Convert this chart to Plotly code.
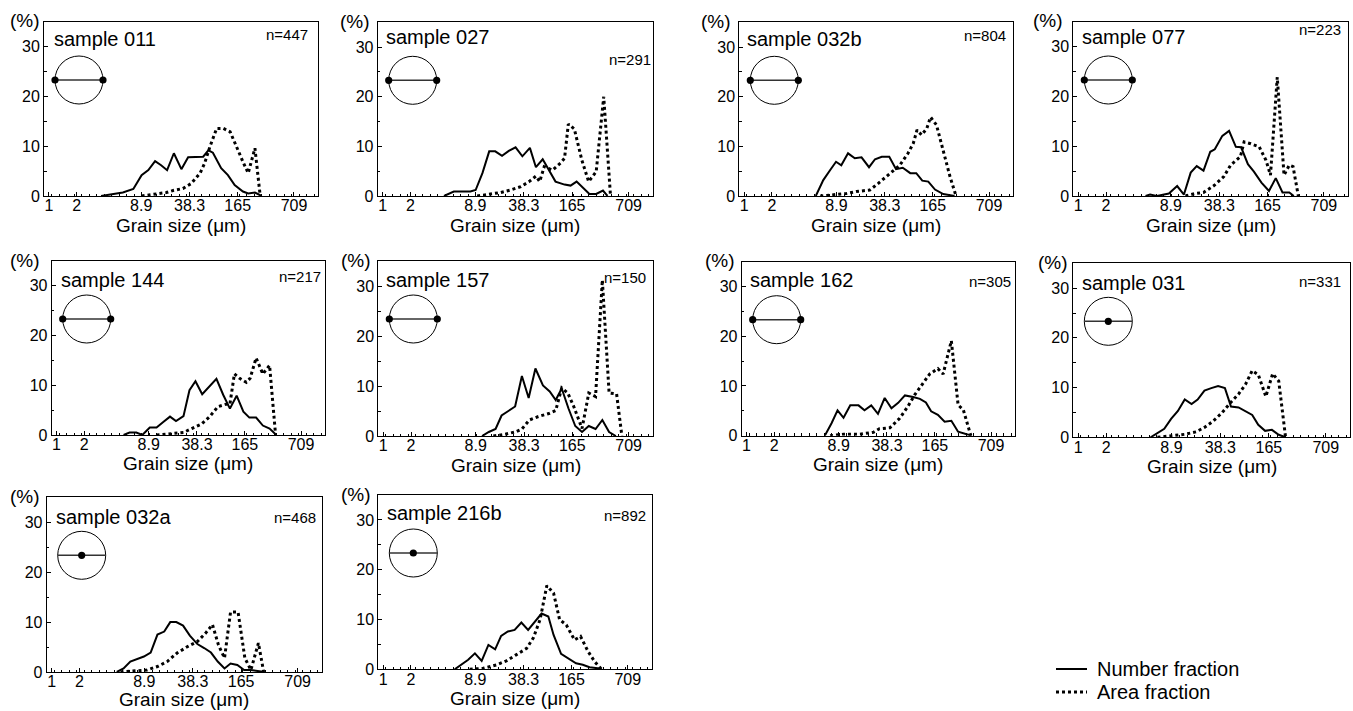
import plotly.graph_objects as go

W, H = 1353, 711

# ---------------- data ----------------
# x positions are size-class positions on the (non-linear) grain-size axis
TICK_POS = [0.65, 4.35, 12.95, 19.4, 25.8, 33.3]
TICK_TEXT = ["1", "2", "8.9", "38.3", "165", "709"]

SAMPLE_NAMES = ["sample 011", "sample 027", "sample 032b", "sample 077", "sample 144",
                "sample 157", "sample 162", "sample 031", "sample 032a", "sample 216b"]
COUNTS = [447, 291, 804, 223, 217, 150, 305, 331, 468, 892]
ICON_TYPE = ["edge", "edge", "edge", "edge", "edge", "edge", "edge", "center", "center", "center"]
LEGEND_NAMES = ["Number fraction", "Area fraction"]

s011_num_x = [7.6, 8.8, 10.5, 11.9, 13.0, 13.9, 14.8, 15.6, 16.4, 17.3, 18.3, 19.2, 20.3, 21.2, 21.9, 22.5, 23.6, 24.5, 25.4, 26.5, 27.2, 28.1, 29.0]
s011_num_y = [0, 0.3, 0.7, 1.4, 4.2, 5.2, 7.0, 6.2, 5.2, 8.6, 5.4, 7.8, 7.9, 7.9, 9.2, 8.7, 5.6, 4.2, 2.2, 0.9, 0.5, 0.7, 0]
s011_area_x = [13.0, 14.5, 16.3, 17.2, 18.5, 19.6, 20.8, 21.4, 22.1, 23.0, 23.9, 24.8, 25.6, 26.5, 27.2, 28.1, 28.8]
s011_area_y = [0, 0.3, 0.7, 1.1, 1.5, 2.5, 4.6, 6.6, 9.9, 13.6, 13.6, 12.9, 9.9, 6.9, 4.6, 9.6, 0]

s027_num_x = [8.8, 10.1, 11.4, 12.3, 13.0, 13.9, 14.8, 15.6, 16.5, 17.4, 18.3, 19.2, 20.2, 21.0, 21.9, 22.8, 23.6, 24.8, 25.6, 26.4, 27.2, 28.1, 29.0, 29.9, 30.5]
s027_num_y = [0, 0.9, 0.9, 0.9, 1.2, 4.6, 9.0, 9.0, 8.1, 9.1, 9.8, 8.0, 9.7, 5.8, 7.4, 4.9, 2.9, 2.3, 2.1, 2.9, 1.7, 0.4, 0.4, 1.1, 0]
s027_area_x = [13.2, 14.8, 16.3, 17.6, 19.0, 20.1, 21.0, 21.5, 22.1, 23.2, 24.3, 24.8, 25.3, 26.1, 27.1, 28.0, 29.0, 30.0, 30.9]
s027_area_y = [0, 0.3, 0.7, 1.2, 1.9, 2.9, 4.0, 2.9, 5.9, 5.2, 6.7, 7.6, 14.5, 13.5, 7.2, 2.9, 4.9, 20.0, 0]

s032b_num_x = [10.2, 11.2, 12.1, 12.9, 13.6, 14.5, 15.4, 16.3, 17.3, 18.1, 19.0, 20.0, 20.9, 21.8, 22.8, 23.6, 24.4, 25.2, 26.1, 27.2, 28.7]
s032b_num_y = [0, 3.2, 5.2, 6.9, 6.2, 8.6, 7.6, 7.8, 5.8, 7.4, 7.9, 7.9, 5.4, 5.7, 4.6, 4.6, 3.1, 2.9, 1.3, 0.4, 0]
s032b_area_x = [10.8, 12.5, 14.3, 15.6, 17.4, 18.5, 19.6, 20.5, 21.4, 22.5, 23.2, 23.7, 24.3, 25.0, 25.5, 26.3, 27.2, 28.1, 28.9]
s032b_area_y = [0, 0.3, 0.5, 0.9, 1.2, 2.5, 3.9, 5.2, 6.2, 8.6, 10.6, 13.3, 12.3, 13.6, 15.9, 14.3, 9.2, 3.9, 0]

s077_num_x = [9.6, 10.2, 11.1, 12.7, 13.8, 14.7, 15.6, 16.4, 17.3, 18.2, 18.8, 19.8, 20.7, 21.6, 22.3, 23.2, 24.0, 25.0, 26.0, 26.9, 27.8, 28.7, 29.3]
s077_num_y = [0, 0.3, 0, 0.5, 2.0, 0.3, 4.7, 6.0, 5.1, 8.9, 9.4, 12.1, 13.1, 9.9, 9.8, 6.4, 4.9, 2.7, 1.0, 3.6, 0.7, 0.7, 0]
s077_area_x = [14.9, 16.2, 17.3, 18.7, 20.0, 20.9, 22.2, 22.7, 23.6, 24.7, 25.6, 26.2, 27.1, 28.0, 28.7, 29.2, 29.9]
s077_area_y = [0, 0.5, 0.7, 2.1, 3.9, 6.2, 7.9, 10.9, 10.5, 9.9, 7.2, 4.2, 23.9, 4.2, 6.2, 5.9, 0]

s144_num_x = [9.6, 10.4, 11.3, 12.1, 13.1, 14.0, 14.9, 15.8, 16.6, 17.6, 18.4, 19.2, 20.1, 21.1, 22.0, 22.9, 23.8, 24.7, 25.6, 26.4, 27.3, 28.2, 29.1, 30.0]
s144_num_y = [0, 0.5, 0.5, 0, 1.5, 1.5, 2.6, 3.7, 2.8, 3.8, 9.0, 10.8, 8.2, 9.8, 11.3, 8.1, 5.3, 7.9, 4.7, 3.5, 3.5, 1.9, 1.3, 0]
s144_area_x = [14.0, 15.8, 17.6, 18.7, 20.0, 21.1, 22.2, 23.3, 23.8, 24.4, 25.1, 26.0, 26.5, 27.3, 28.2, 29.1, 29.9]
s144_area_y = [0, 0.3, 0.5, 1.3, 2.2, 3.7, 5.7, 6.2, 6.2, 12.3, 11.4, 10.6, 11.4, 15.5, 12.3, 14.0, 0]

s157_num_x = [13.8, 14.7, 15.6, 16.4, 17.3, 18.2, 19.1, 20.0, 20.9, 21.9, 22.8, 23.6, 24.4, 25.3, 26.2, 27.1, 28.0, 28.9, 29.8, 30.7, 31.6]
s157_num_y = [0, 0.8, 1.4, 4.1, 5.0, 5.9, 12.0, 7.6, 13.5, 10.1, 8.9, 7.2, 9.5, 5.5, 2.0, 0.8, 2.0, 1.4, 3.2, 0.8, 0]
s157_area_x = [15.3, 16.7, 18.2, 19.1, 20.1, 21.3, 22.7, 23.6, 24.4, 25.2, 26.0, 27.1, 28.0, 28.9, 29.8, 30.7, 31.7, 32.4]
s157_area_y = [0, 0.3, 0.8, 1.4, 3.2, 3.9, 4.5, 5.1, 9.6, 8.6, 5.9, 1.5, 8.6, 7.9, 31.2, 8.6, 8.4, 0]

s162_num_x = [11.1, 12.0, 12.8, 13.6, 14.5, 15.6, 16.4, 17.3, 18.2, 19.1, 20.0, 20.9, 21.8, 22.9, 23.8, 24.6, 25.3, 26.2, 27.1, 28.0, 28.9, 30.0, 30.7]
s162_num_y = [0, 2.5, 5.1, 3.6, 6.1, 6.1, 5.1, 6.1, 4.4, 7.6, 5.5, 6.6, 8.1, 7.8, 7.4, 6.7, 4.9, 4.2, 2.8, 3.0, 0.8, 0.3, 0]
s162_area_x = [11.8, 13.6, 15.8, 17.6, 18.4, 19.8, 21.1, 22.2, 23.1, 24.0, 25.1, 26.2, 26.9, 28.0, 28.9, 29.6, 30.6]
s162_area_y = [0, 0.3, 0.3, 0.7, 1.4, 1.6, 3.5, 5.9, 8.2, 10.1, 12.4, 13.5, 12.4, 19.1, 6.2, 5.2, 0]

s031_num_x = [10.2, 12.0, 12.9, 13.8, 14.7, 15.6, 16.4, 17.3, 18.2, 19.1, 20.0, 20.8, 21.8, 22.7, 23.6, 24.4, 25.3, 26.2, 27.1, 28.0]
s031_num_y = [0, 1.7, 3.7, 5.3, 7.6, 6.7, 7.6, 9.4, 9.9, 10.3, 9.9, 6.2, 6.0, 5.2, 4.5, 2.5, 1.3, 1.5, 0.5, 0]
s031_area_x = [11.1, 12.9, 14.7, 16.2, 17.3, 18.4, 19.6, 20.7, 21.8, 22.7, 23.6, 24.4, 25.4, 26.3, 27.1, 28.0]
s031_area_y = [0, 0.3, 0.6, 1.1, 2.0, 3.2, 4.9, 6.9, 8.7, 10.6, 13.4, 12.6, 8.2, 12.8, 11.3, 0]

s032a_num_x = [9.3, 10.2, 11.1, 12.0, 12.9, 13.8, 14.7, 15.6, 16.4, 17.2, 18.1, 19.0, 20.0, 20.9, 21.8, 22.7, 23.6, 24.4, 25.3, 26.2, 27.1, 28.0, 28.9]
s032a_num_y = [0, 0.7, 2.1, 2.6, 3.1, 3.9, 7.5, 8.1, 10.0, 10.0, 9.3, 7.3, 5.6, 4.8, 3.9, 2.1, 0.7, 1.7, 1.4, 0.4, 0.4, 0.2, 0]
s032a_area_x = [9.8, 11.6, 13.3, 14.7, 16.0, 17.3, 18.7, 20.0, 21.1, 22.0, 22.8, 23.6, 24.4, 25.4, 26.3, 27.1, 28.1, 28.8]
s032a_area_y = [0, 0.2, 0.4, 1.1, 2.1, 3.8, 5.1, 6.1, 7.8, 9.5, 5.4, 2.8, 12.0, 12.0, 2.8, 0.4, 5.8, 0]

s216b_num_x = [10.2, 11.1, 12.0, 12.9, 13.8, 14.7, 15.6, 16.4, 17.3, 18.2, 19.1, 20.0, 20.9, 21.8, 22.7, 23.4, 24.4, 25.5, 26.4, 27.3, 28.2, 29.3, 29.8]
s216b_num_y = [0, 0.9, 1.9, 3.2, 1.7, 4.9, 4.0, 6.7, 7.6, 7.9, 9.4, 7.9, 9.6, 11.2, 10.6, 6.9, 3.1, 2.0, 1.2, 0.9, 0.4, 0.2, 0]
s216b_area_x = [12.2, 14.0, 15.8, 17.1, 18.4, 19.8, 20.7, 21.6, 22.5, 23.4, 24.2, 25.1, 26.2, 27.0, 28.0, 28.9, 29.8]
s216b_area_y = [0, 0.2, 0.9, 1.7, 2.9, 4.2, 6.3, 10.0, 16.8, 15.3, 10.0, 8.9, 5.9, 6.6, 3.6, 1.5, 0]

SERIES = [
    (s011_num_x, s011_num_y, s011_area_x, s011_area_y),
    (s027_num_x, s027_num_y, s027_area_x, s027_area_y),
    (s032b_num_x, s032b_num_y, s032b_area_x, s032b_area_y),
    (s077_num_x, s077_num_y, s077_area_x, s077_area_y),
    (s144_num_x, s144_num_y, s144_area_x, s144_area_y),
    (s157_num_x, s157_num_y, s157_area_x, s157_area_y),
    (s162_num_x, s162_num_y, s162_area_x, s162_area_y),
    (s031_num_x, s031_num_y, s031_area_x, s031_area_y),
    (s032a_num_x, s032a_num_y, s032a_area_x, s032a_area_y),
    (s216b_num_x, s216b_num_y, s216b_area_x, s216b_area_y),
]

# ---------------- layout (pixels) ----------------
FRAMES = [  # left, right, top, bottom
    (44, 318, 22, 196), (377.7, 652.7, 22.3, 196), (739.3, 1013, 22.3, 196), (1073.3, 1348, 22, 196),
    (51.7, 325, 261, 435), (378.3, 652.7, 261, 436), (741.7, 1015, 261.7, 435.7), (1073.3, 1350, 263.3, 437.3),
    (46.7, 321.7, 497.3, 672), (378.3, 651.7, 495, 669.3),
]
TITLE_OFF = [(7.7, 17.3), (6.6, 14.4), (5.7, 17), (6.7, 14.7), (7.6, 19), (5.7, 19), (6.6, 18.3), (6.7, 19.4), (7.3, 20), (6.7, 18.3)]
N_OFF = [(-8, 13), (0, 37), (-5, 13), (-5, 7.3), (-2.3, 15.7), (-4.4, 16.7), (-2, 20), (-7, 18.4), (-3.4, 20), (-3.4, 20.7)]
PCT_RIGHT = [42, 371.7, 733.3, 1065, 42, 373.3, 736.7, 1070, 41.7, 373.3]

FONT = "Liberation Sans, Arial, Helvetica, sans-serif"

def px(x):
    return x / W

def py(y):
    return 1 - y / H

fig = go.Figure()
annotations = []
shapes = []

for i, (nx, ny, axx, ayy) in enumerate(SERIES):
    sfx = "" if i == 0 else str(i + 1)
    L, R, T, B = FRAMES[i]
    fig.add_trace(go.Scatter(x=nx, y=ny, mode="lines", name=LEGEND_NAMES[0],
                             line=dict(color="black", width=2), showlegend=False,
                             xaxis="x" + sfx, yaxis="y" + sfx, hoverinfo="skip"))
    fig.add_trace(go.Scatter(x=axx, y=ayy, mode="lines", name=LEGEND_NAMES[1],
                             line=dict(color="black", width=3, dash="dot"), showlegend=False,
                             xaxis="x" + sfx, yaxis="y" + sfx, hoverinfo="skip"))
    common = dict(showline=True, mirror=True, linecolor="black", linewidth=1,
                  showgrid=False, zeroline=False, ticks="inside", ticklen=4, tickcolor="black",
                  tickfont=dict(family=FONT, size=16, color="black"), automargin=False, fixedrange=True)
    fig.layout["xaxis" + sfx] = dict(domain=[px(L), px(R)], anchor="y" + sfx, range=[0, 36.5],
                                     tickmode="array", tickvals=TICK_POS, ticktext=TICK_TEXT,
                                     ticklabelstandoff=-5,
                                     minor=dict(ticks="inside", ticklen=2.5, tickmode="linear", tick0=0, dtick=1, tickcolor="black"),
                                     **common)
    fig.layout["yaxis" + sfx] = dict(domain=[py(B), py(T)], anchor="x" + sfx, range=[0, 35],
                                     tickmode="array", tickvals=[0, 10, 20, 30],
                                     minor=dict(ticks="inside", ticklen=2.5, tickmode="array", tickvals=[5, 15, 25], tickcolor="black"),
                                     **common)
    # texts
    annotations.append(dict(x=px(L + TITLE_OFF[i][0]), y=py(T + TITLE_OFF[i][1]), xref="paper", yref="paper",
                            text=SAMPLE_NAMES[i], showarrow=False, xanchor="left", yanchor="middle",
                            font=dict(family=FONT, size=20, color="black")))
    annotations.append(dict(x=px(R + N_OFF[i][0]), y=py(T + N_OFF[i][1]), xref="paper", yref="paper",
                            text="n=%d" % COUNTS[i], showarrow=False, xanchor="right", yanchor="middle",
                            font=dict(family=FONT, size=15, color="black")))
    annotations.append(dict(x=px(PCT_RIGHT[i]), y=py(T - 1), xref="paper", yref="paper",
                            text="(%)", showarrow=False, xanchor="right", yanchor="middle",
                            font=dict(family=FONT, size=19, color="black")))
    title_y = min(B + 29, H - 12)
    annotations.append(dict(x=px((L + R) / 2), y=py(title_y), xref="paper", yref="paper",
                            text="Grain size (\u03bcm)", showarrow=False, xanchor="center", yanchor="middle",
                            borderpad=0, font=dict(family=FONT, size=19, color="black")))
    # icon
    cx, cy, r, d = L + 35, T + 58, 24, 3.6
    shapes.append(dict(type="circle", xref="paper", yref="paper", x0=px(cx - r), x1=px(cx + r),
                       y0=py(cy + r), y1=py(cy - r), line=dict(color="black", width=1)))
    shapes.append(dict(type="line", xref="paper", yref="paper", x0=px(cx - r), x1=px(cx + r),
                       y0=py(cy), y1=py(cy), line=dict(color="#333333", width=1.5)))
    dots = [cx - r, cx + r] if ICON_TYPE[i] == "edge" else [cx]
    for dx in dots:
        shapes.append(dict(type="circle", xref="paper", yref="paper", x0=px(dx - d), x1=px(dx + d),
                           y0=py(cy + d), y1=py(cy - d), fillcolor="black", line=dict(color="black", width=0)))

# legend (drawn as keys + labels)
LEG_X0, LEG_X1, LEG_TEXT_X = 1056, 1087, 1095
LEG_Y = [669, 692]
LEG_DASH = ["solid", "dot"]
LEG_W = [2, 3]
for k in range(2):
    shapes.append(dict(type="line", xref="paper", yref="paper", x0=px(LEG_X0), x1=px(LEG_X1),
                       y0=py(LEG_Y[k]), y1=py(LEG_Y[k]), line=dict(color="black", width=LEG_W[k], dash=LEG_DASH[k])))
    annotations.append(dict(x=px(LEG_TEXT_X), y=py(LEG_Y[k]), xref="paper", yref="paper",
                            text=LEGEND_NAMES[k], showarrow=False, xanchor="left", yanchor="middle",
                            font=dict(family=FONT, size=20, color="black")))

fig.update_layout(
    width=W, height=H, margin=dict(l=0, r=0, t=0, b=0),
    paper_bgcolor="white", plot_bgcolor="white",
    annotations=annotations, shapes=shapes, showlegend=False,
)

fig.write_html("out.html", config={"displayModeBar": False},
               post_script="document.body.style.margin='0';document.body.style.overflow='hidden';")
